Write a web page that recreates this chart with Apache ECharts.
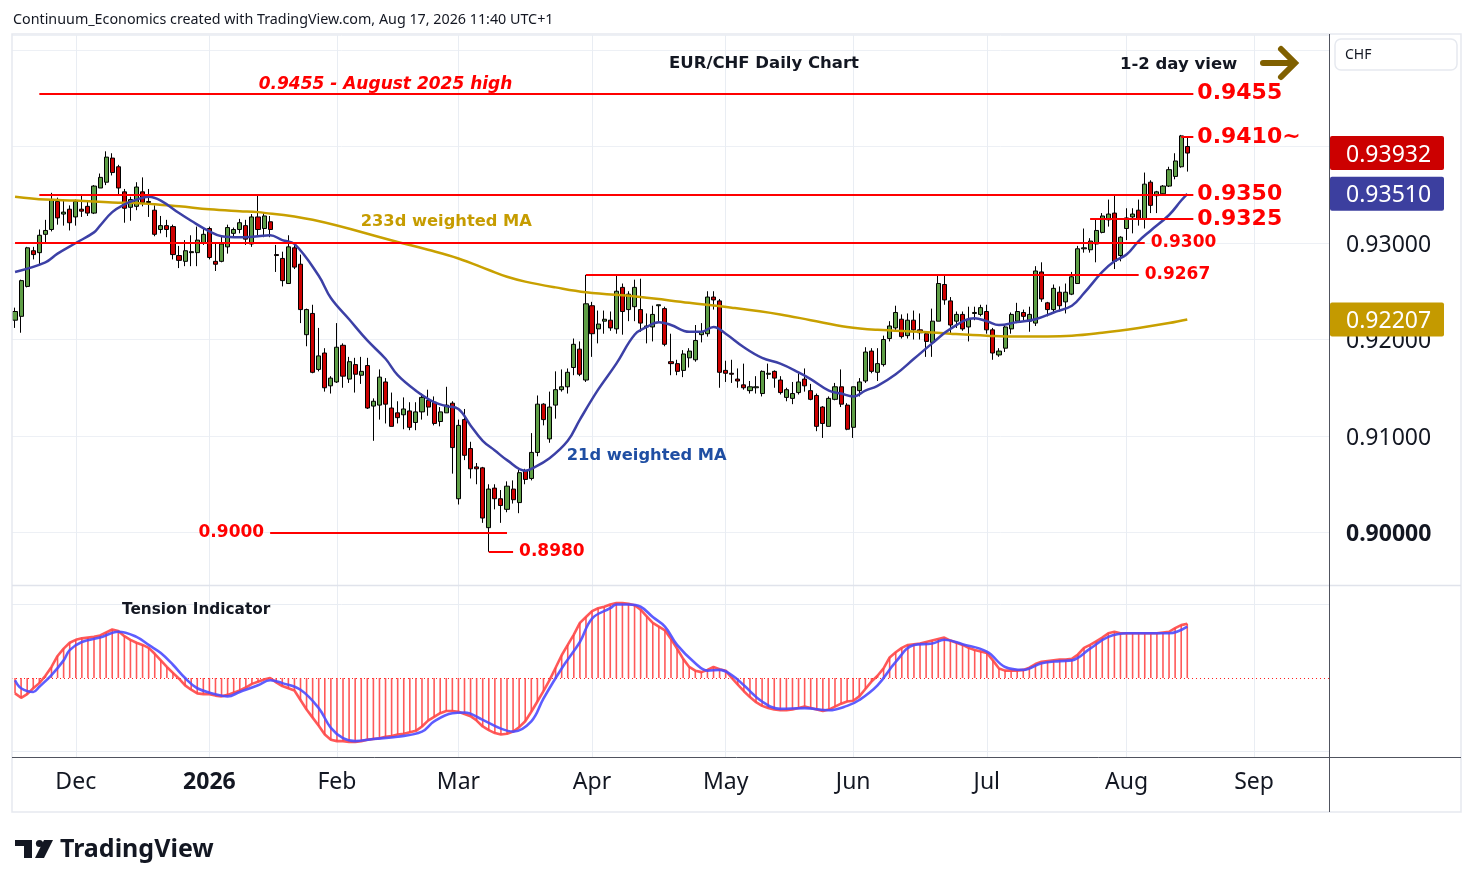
<!DOCTYPE html>
<html><head><meta charset="utf-8">
<script src="https://cdn.jsdelivr.net/npm/echarts@6/dist/echarts.min.js"></script>
<style>html,body{margin:0;padding:0;background:#fff}#c{width:1474px;height:887px}</style>
</head><body><div id="c"></div>
<script>
// ---------- data ----------
const openPx = [
0.9220,0.9224,0.9255,0.9292,0.9290,0.9309,0.9314,0.9343,0.9330,0.9335,
0.9327,0.9335,0.9338,0.9331,0.9357,0.9363,0.9388,0.9379,0.9353,0.9337,
0.9338,0.9353,0.9343,0.9334,0.9314,0.9318,0.9317,0.9287,0.9281,0.9290,
0.9290,0.9300,0.9315,0.9281,0.9281,0.9296,0.9310,0.9314,0.9318,0.9299,
0.9327,0.9315,0.9322,0.9288,0.9284,0.9258,0.9295,0.9278,0.9205,0.9227,
0.9169,0.9186,0.9152,0.9156,0.9194,0.9159,0.9174,0.9163,0.9173,0.9131,
0.9132,0.9156,0.9129,0.9124,0.9122,0.9126,0.9114,0.9125,0.9137,0.9135,
0.9115,0.9124,0.9134,0.9035,0.9117,0.9087,0.9068,0.9067,0.9005,0.9046,
0.9035,0.9024,0.9045,0.9031,0.9064,0.9056,0.9083,0.9133,0.9097,0.9132,
0.9148,0.9151,0.9171,0.9190,0.9158,0.9235,0.9211,0.9219,0.9220,0.9211,
0.9254,0.9231,0.9234,0.9231,0.9213,0.9213,0.9235,0.9232,0.9177,0.9175,
0.9168,0.9181,0.9179,0.9205,0.9206,0.9244,0.9240,0.9168,0.9165,0.9159,
0.9153,0.9147,0.9150,0.9144,0.9164,0.9167,0.9158,0.9140,0.9139,0.9145,
0.9159,0.9147,0.9142,0.9130,0.9110,0.9138,0.9151,0.9132,0.9109,0.9147,
0.9157,0.9188,0.9166,0.9174,0.9201,0.9212,0.9221,0.9204,0.9220,0.9210,
0.9206,0.9197,0.9219,0.9257,0.9240,0.9219,0.9226,0.9213,0.9227,0.9226,
0.9229,0.9210,0.9184,0.9191,0.9211,0.9219,0.9228,0.9219,0.9217,0.9270,
0.9238,0.9231,0.9249,0.9239,0.9247,0.9258,0.9294,0.9293,0.9299,0.9311,
0.9324,0.9331,0.9287,0.9315,0.9327,0.9334,0.9325,0.9363,0.9349,0.9351,
0.9359,0.9369,0.9379,0.9400];
const highPx = [
0.9233,0.9262,0.9296,0.9296,0.9314,0.9324,0.9352,0.9347,0.9345,0.9339,
0.9345,0.9349,0.9343,0.9360,0.9372,0.9395,0.9393,0.9381,0.9356,0.9348,
0.9363,0.9368,0.9356,0.9339,0.9328,0.9324,0.9319,0.9297,0.9303,0.9308,
0.9317,0.9316,0.9317,0.9300,0.9307,0.9319,0.9316,0.9325,0.9324,0.9330,
0.9350,0.9332,0.9328,0.9298,0.9291,0.9308,0.9300,0.9288,0.9232,0.9236,
0.9212,0.9191,0.9162,0.9217,0.9196,0.9182,0.9181,0.9182,0.9181,0.9139,
0.9169,0.9160,0.9145,0.9136,0.9140,0.9135,0.9135,0.9144,0.9148,0.9141,
0.9130,0.9151,0.9136,0.9117,0.9128,0.9094,0.9072,0.9068,0.9050,0.9050,
0.9044,0.9053,0.9054,0.9065,0.9066,0.9103,0.9142,0.9134,0.9146,0.9167,
0.9169,0.9170,0.9201,0.9198,0.9267,0.9239,0.9230,0.9230,0.9229,0.9266,
0.9258,0.9250,0.9262,0.9263,0.9227,0.9235,0.9236,0.9234,0.9206,0.9179,
0.9189,0.9191,0.9215,0.9217,0.9250,0.9250,0.9242,0.9178,0.9179,0.9170,
0.9175,0.9157,0.9162,0.9168,0.9175,0.9168,0.9162,0.9150,0.9156,0.9165,
0.9170,0.9154,0.9144,0.9131,0.9141,0.9155,0.9169,0.9134,0.9151,0.9160,
0.9192,0.9191,0.9191,0.9204,0.9219,0.9235,0.9226,0.9227,0.9230,0.9227,
0.9208,0.9232,0.9267,0.9267,0.9244,0.9229,0.9229,0.9234,0.9234,0.9236,
0.9236,0.9212,0.9191,0.9215,0.9228,0.9238,0.9231,0.9234,0.9276,0.9280,
0.9239,0.9257,0.9255,0.9258,0.9270,0.9297,0.9315,0.9305,0.9324,0.9331,
0.9345,0.9349,0.9307,0.9336,0.9336,0.9345,0.9373,0.9365,0.9354,0.9360,
0.9379,0.9393,0.9412,0.9410];
const lowPx = [
0.9212,0.9207,0.9254,0.9283,0.9277,0.9301,0.9312,0.9319,0.9318,0.9313,
0.9318,0.9327,0.9328,0.9330,0.9357,0.9360,0.9370,0.9350,0.9321,0.9323,
0.9334,0.9338,0.9327,0.9307,0.9310,0.9306,0.9283,0.9274,0.9276,0.9276,
0.9276,0.9298,0.9283,0.9271,0.9280,0.9289,0.9307,0.9310,0.9298,0.9296,
0.9308,0.9306,0.9306,0.9270,0.9255,0.9258,0.9273,0.9217,0.9193,0.9165,
0.9167,0.9146,0.9144,0.9155,0.9150,0.9155,0.9145,0.9154,0.9128,0.9095,
0.9117,0.9113,0.9110,0.9113,0.9107,0.9106,0.9106,0.9117,0.9121,0.9111,
0.9110,0.9124,0.9061,0.9029,0.9075,0.9056,0.9050,0.9010,0.8980,0.9024,
0.9010,0.9021,0.9030,0.9020,0.9050,0.9054,0.9079,0.9111,0.9093,0.9118,
0.9146,0.9144,0.9163,0.9162,0.9156,0.9182,0.9196,0.9206,0.9209,0.9206,
0.9205,0.9219,0.9219,0.9208,0.9196,0.9198,0.9218,0.9193,0.9163,0.9163,
0.9161,0.9171,0.9177,0.9197,0.9203,0.9231,0.9150,0.9156,0.9155,0.9150,
0.9148,0.9144,0.9144,0.9141,0.9159,0.9150,0.9143,0.9136,0.9133,0.9143,
0.9146,0.9137,0.9105,0.9098,0.9110,0.9137,0.9130,0.9106,0.9098,0.9141,
0.9155,0.9165,0.9157,0.9172,0.9198,0.9209,0.9201,0.9201,0.9200,0.9200,
0.9182,0.9182,0.9219,0.9236,0.9206,0.9212,0.9209,0.9198,0.9220,0.9224,
0.9206,0.9179,0.9182,0.9187,0.9206,0.9217,0.9220,0.9208,0.9214,0.9239,
0.9224,0.9228,0.9229,0.9227,0.9246,0.9258,0.9290,0.9290,0.9280,0.9310,
0.9317,0.9273,0.9281,0.9303,0.9310,0.9318,0.9315,0.9331,0.9331,0.9350,
0.9358,0.9366,0.9378,0.9374];
const closePx = [
0.9229,0.9261,0.9295,0.9288,0.9308,0.9313,0.9345,0.9326,0.9332,0.9321,
0.9343,0.9333,0.9331,0.9359,0.9368,0.9389,0.9373,0.9357,0.9336,0.9345,
0.9358,0.9342,0.9342,0.9309,0.9318,0.9314,0.9288,0.9282,0.9292,0.9291,
0.9303,0.9309,0.9285,0.9278,0.9299,0.9316,0.9314,0.9321,0.9304,0.9327,
0.9314,0.9328,0.9314,0.9287,0.9261,0.9296,0.9275,0.9231,0.9231,0.9166,
0.9183,0.9150,0.9160,0.9192,0.9162,0.9177,0.9164,0.9167,0.9129,0.9136,
0.9161,0.9133,0.9110,0.9119,0.9128,0.9109,0.9125,0.9140,0.9130,0.9113,
0.9125,0.9132,0.9088,0.9111,0.9080,0.9066,0.9066,0.9015,0.9045,0.9035,
0.9028,0.9048,0.9034,0.9062,0.9055,0.9083,0.9133,0.9117,0.9130,0.9148,
0.9151,0.9166,0.9195,0.9164,0.9237,0.9206,0.9216,0.9221,0.9212,0.9250,
0.9229,0.9247,0.9254,0.9217,0.9214,0.9226,0.9236,0.9195,0.9175,0.9167,
0.9185,0.9188,0.9199,0.9208,0.9244,0.9241,0.9166,0.9165,0.9164,0.9157,
0.9150,0.9151,0.9151,0.9167,0.9165,0.9160,0.9145,0.9148,0.9144,0.9156,
0.9152,0.9138,0.9110,0.9113,0.9139,0.9151,0.9133,0.9107,0.9151,0.9156,
0.9187,0.9167,0.9175,0.9200,0.9214,0.9228,0.9203,0.9220,0.9210,0.9207,
0.9198,0.9219,0.9258,0.9241,0.9215,0.9226,0.9211,0.9221,0.9228,0.9233,
0.9210,0.9186,0.9188,0.9213,0.9226,0.9229,0.9224,0.9226,0.9271,0.9242,
0.9231,0.9253,0.9235,0.9249,0.9265,0.9294,0.9295,0.9302,0.9313,0.9328,
0.9330,0.9281,0.9306,0.9326,0.9330,0.9325,0.9361,0.9339,0.9353,0.9359,
0.9376,0.9385,0.9411,0.93932];

// 21d weighted MA (bar index -> value)
const wma21Idx = [0,5,7,10,13,14,16,18,20,22,24,27,29,32,34,37,40,42,44,46,50,52,55,58,61,63,66,69,71,73,75,77,79,81,84,85,88,91,93,96,99,102,104,106,108,111,113,115,117,120,123,126,129,131,134,136,138,140,142,145,148,151,154,158,160,162,165,168,171,174,176,179,181,183,185,187,190,192,193];
const wma21Val = [0.9270,0.9280,0.9289,0.9300,0.9311,0.9318,0.9332,0.9340,0.9345,0.9348,0.9344,0.9331,0.9323,0.9312,0.9307,0.9306,0.9307,0.9308,0.9303,0.9299,0.9266,0.9243,0.9221,0.9199,0.9180,0.9163,0.9147,0.9135,0.9131,0.9128,0.9111,0.9095,0.9085,0.9075,0.9064,0.9066,0.9077,0.9095,0.9117,0.9148,0.9175,0.9205,0.9213,0.9218,0.9215,0.9208,0.9208,0.9213,0.9206,0.9192,0.9181,0.9175,0.9166,0.9159,0.9147,0.9144,0.9141,0.9147,0.9152,0.9164,0.9180,0.9196,0.9211,0.9222,0.9219,0.9215,0.9218,0.9221,0.9228,0.9235,0.9248,0.9270,0.9281,0.9288,0.9302,0.9313,0.9329,0.9344,0.9351];
// 233d weighted MA
const wma233Idx = [0,5,10,16,21,27,32,37,40,49,63,68,73,78,81,84,89,94,103,111,118,126,131,137,142,149,154,160,165,174,179,185,190,193];
const wma233Val = [0.9348,0.9345,0.9344,0.9342,0.9341,0.9338,0.9335,0.9333,0.9332,0.9324,0.9301,0.9293,0.9284,0.9272,0.9265,0.9260,0.9254,0.9249,0.9244,0.9238,0.9233,0.9226,0.9220,0.9213,0.9210,0.9208,0.9206,0.9204,0.9203,0.9204,0.9207,0.9212,0.9217,0.92207];

// Tension Indicator (one value per bar)
const tension = [
-0.21,-0.27,-0.22,-0.14,-0.07,0.03,0.15,0.30,0.40,0.48,
0.52,0.54,0.55,0.56,0.58,0.62,0.66,0.64,0.57,0.52,
0.48,0.45,0.41,0.33,0.24,0.15,0.07,-0.01,-0.10,-0.16,
-0.21,-0.22,-0.22,-0.24,-0.25,-0.23,-0.20,-0.17,-0.13,-0.08,
-0.05,-0.02,0.00,-0.06,-0.11,-0.14,-0.17,-0.30,-0.43,-0.54,
-0.65,-0.77,-0.84,-0.86,-0.86,-0.87,-0.87,-0.86,-0.84,-0.83,
-0.82,-0.80,-0.79,-0.77,-0.76,-0.74,-0.72,-0.66,-0.58,-0.53,
-0.48,-0.45,-0.45,-0.46,-0.49,-0.52,-0.58,-0.66,-0.71,-0.75,
-0.77,-0.76,-0.73,-0.67,-0.59,-0.46,-0.32,-0.18,-0.03,0.14,
0.31,0.45,0.59,0.75,0.83,0.91,0.95,0.97,1.00,1.02,
1.02,1.01,0.99,0.93,0.84,0.75,0.70,0.65,0.53,0.40,
0.26,0.15,0.10,0.08,0.11,0.15,0.12,0.10,0.00,-0.09,
-0.18,-0.26,-0.33,-0.38,-0.41,-0.43,-0.44,-0.44,-0.43,-0.41,
-0.39,-0.41,-0.43,-0.45,-0.43,-0.39,-0.35,-0.32,-0.31,-0.25,
-0.15,-0.05,0.03,0.13,0.28,0.35,0.41,0.45,0.46,0.47,
0.49,0.51,0.53,0.55,0.51,0.48,0.45,0.41,0.38,0.36,
0.34,0.24,0.13,0.10,0.10,0.10,0.11,0.14,0.19,0.22,
0.23,0.24,0.25,0.25,0.26,0.32,0.41,0.45,0.50,0.55,
0.61,0.63,0.61,0.61,0.61,0.61,0.61,0.61,0.61,0.62,
0.63,0.68,0.72,0.74];
// signal line of the Tension Indicator
const signalIdx = [0,1,3,4,6,8,9,11,14,17,20,22,24,26,28,30,33,35,37,40,42,44,47,50,52,54,56,59,63,67,69,72,74,77,80,82,85,87,90,93,95,98,99,101,103,105,107,109,112,114,116,118,120,123,126,130,134,137,139,142,145,148,151,153,156,160,163,166,169,172,174,177,180,183,186,190,193];
const signalVal = [-0.03,-0.14,-0.19,-0.12,0.04,0.24,0.38,0.49,0.55,0.63,0.56,0.45,0.34,0.18,0.00,-0.14,-0.22,-0.25,-0.19,-0.10,-0.03,-0.07,-0.16,-0.41,-0.68,-0.82,-0.86,-0.83,-0.80,-0.73,-0.59,-0.48,-0.47,-0.57,-0.69,-0.73,-0.59,-0.28,0.13,0.49,0.81,0.95,1.00,1.00,0.97,0.83,0.70,0.45,0.20,0.10,0.11,0.04,-0.10,-0.32,-0.42,-0.41,-0.44,-0.38,-0.30,-0.10,0.22,0.45,0.47,0.52,0.46,0.36,0.15,0.11,0.20,0.23,0.24,0.40,0.56,0.61,0.61,0.61,0.70];

// horizontal levels drawn on the chart
const levelValues = [0.9455, 0.9410, 0.9350, 0.9325, 0.9300, 0.9267, 0.9000, 0.8980];
const levelStart  = [4, 192, 4, 177, 0, 94, 42, 78];
const levelEnd    = [194, 194, 194, 194, 186, 185, 81, 82];
const levelText   = ['0.9455', '0.9410~', '0.9350', '0.9325', '0.9300', '0.9267', '0.9000', '0.8980'];

const lastPrice = 0.93932, lastWma21 = 0.93510, lastWma233 = 0.92207;
const monthNames = ['Jan','Feb','Mar','Apr','May','Jun','Jul','Aug','Sep','Oct','Nov','Dec'];

// ---------- trading-day categories (weekdays, holidays skipped) ----------
const skipDays = {'2025-12-25':1, '2026-01-01':1};
const dates = [];
(function(){ const d = new Date(Date.UTC(2025,10,17));
  while (dates.length < 217) { const wd = d.getUTCDay(); const s = d.toISOString().slice(0,10);
    if (wd !== 0 && wd !== 6 && !skipDays[s]) dates.push(s); d.setUTCDate(d.getUTCDate()+1); } })();
const monthStart = [];
for (let i = 1; i < dates.length; i++) if (dates[i].slice(5,7) !== dates[i-1].slice(5,7)) monthStart.push(i);
const isMonthStart = {}; monthStart.forEach(i => isMonthStart[i] = true);

const candles = openPx.map((o,i) => [o, closePx[i], lowPx[i], highPx[i]]);
const wma21 = wma21Idx.map((x,k) => [dates[x], wma21Val[k]]);
const wma233 = wma233Idx.map((x,k) => [dates[x], wma233Val[k]]);
const signal = signalIdx.map((x,k) => [dates[x], signalVal[k]]);

const RED = '#ff0000';
const levelLines = levelValues.map((v,k) => {
  const big = k < 4;
  return [
    { coord: [dates[levelStart[k]], v], lineStyle: {color: RED, width: 2, type: 'solid'},
      label: { show: true, formatter: levelText[k], position: k === 6 ? 'start' : 'end',
        distance: big ? 4 : 6, color: RED, fontFamily: 'DejaVu Sans', fontWeight: 'bold', fontSize: big ? 22 : 17,
        padding: [3, 0, 0, 0] } },
    { coord: [dates[levelEnd[k]], v] }
  ];
});
const monthLines = monthStart.map(i => ({ xAxis: dates[i] }));

const option = {
  animation: false,
  backgroundColor: '#ffffff',
  grid: [
    { left: 12, top: 35, width: 1318, height: 550 },
    { left: 12, top: 586, width: 1318, height: 171.5 }
  ],
  xAxis: [
    { type: 'category', gridIndex: 0, data: dates, boundaryGap: true,
      axisLine: {show: false}, axisTick: {show: false}, axisLabel: {show: false}, splitLine: {show: false} },
    { type: 'category', gridIndex: 1, data: dates, boundaryGap: true,
      axisLine: {show: false}, axisTick: {show: false}, splitLine: {show: false},
      axisLabel: { interval: 0, margin: 13, fontSize: 23, fontFamily: 'Noto Sans', color: '#131722',
        formatter: (v, i) => {
          if (!isMonthStart[i]) return '';
          const m = +v.slice(5,7);
          return m === 1 ? '{b|' + v.slice(0,4) + '}' : monthNames[m-1];
        },
        rich: { b: { fontWeight: 'bold', fontSize: 23, fontFamily: 'Noto Sans', color: '#131722' } } } }
  ],
  yAxis: [
    { type: 'value', gridIndex: 0, position: 'right', min: 0.894560, max: 0.951554,
      splitNumber: 6, minInterval: 0.01, maxInterval: 0.01,
      axisLine: {show: false}, axisTick: {show: false},
      splitLine: { lineStyle: { color: '#edf0f5', width: 1 } },
      axisLabel: { margin: 16, fontSize: 23, fontFamily: 'Noto Sans', color: '#131722',
        showMinLabel: false, showMaxLabel: false, padding: [4, 0, 0, 0],
        formatter: v => { const r = Math.round(v*100)/100;
          if (Math.abs(v - r) > 1e-6 || r >= 0.94) return '';
          return r === 0.9 ? '{b|' + r.toFixed(5) + '}' : r.toFixed(5); },
        rich: { b: { fontWeight: 'bold', fontSize: 23, fontFamily: 'Noto Sans', color: '#131722' } } } },
    { type: 'value', gridIndex: 1, position: 'right', min: -1.083, max: 1.253,
      axisLine: {show: false}, axisTick: {show: false}, axisLabel: {show: false}, splitLine: {show: false} }
  ],
  series: [
    { type: 'line', xAxisIndex: 0, yAxisIndex: 0, data: [], z: 1, silent: true,
      markLine: { silent: true, z: 1, symbol: ['none','none'], label: {show: false},
        lineStyle: { color: '#e9edf3', width: 1, type: 'solid' }, data: monthLines } },
    { type: 'candlestick', name: 'EUR/CHF', xAxisIndex: 0, yAxisIndex: 0, data: candles, barWidth: 4.6, z: 2,
      itemStyle: { color: '#5e9e46', color0: '#cc0000', borderColor: '#000000', borderColor0: '#000000', borderWidth: 1 },
      markLine: { silent: true, z: 5, symbol: ['none','none'], data: levelLines },
      markPoint: { silent: true, z: 6, data: [
        { coord: [dates[61], 0.94640], symbol: 'circle', symbolSize: 1, itemStyle: {color: 'rgba(0,0,0,0)'},
          label: { show: true, position: 'inside', formatter: '0.9455 - August 2025 high', color: RED,
            fontFamily: 'DejaVu Sans', fontStyle: 'italic', fontWeight: 'bold', fontSize: 17 } } ] } },
    { type: 'line', name: '233d weighted MA', xAxisIndex: 0, yAxisIndex: 0, data: wma233, smooth: 0.4,
      symbol: 'none', z: 3, lineStyle: { color: '#c8a000', width: 2.5 },
      markPoint: { silent: true, data: [
        { coord: [dates[71], 0.93225], symbol: 'circle', symbolSize: 1, itemStyle: {color: 'rgba(0,0,0,0)'},
          label: { show: true, position: 'inside', formatter: '233d weighted MA', color: '#c69c00',
            fontFamily: 'DejaVu Sans', fontWeight: 'bold', fontSize: 16.3 } } ] } },
    { type: 'line', name: '21d weighted MA', xAxisIndex: 0, yAxisIndex: 0, data: wma21, smooth: 0.4,
      symbol: 'none', z: 3, lineStyle: { color: '#3c40a6', width: 2.5 },
      markPoint: { silent: true, data: [
        { coord: [dates[104], 0.90800], symbol: 'circle', symbolSize: 1, itemStyle: {color: 'rgba(0,0,0,0)'},
          label: { show: true, position: 'inside', formatter: '21d weighted MA', color: '#1f4ea3',
            fontFamily: 'DejaVu Sans', fontWeight: 'bold', fontSize: 16.3 } } ] } },
    // indicator pane
    { type: 'line', xAxisIndex: 1, yAxisIndex: 1, data: [], z: 1, silent: true,
      markLine: { silent: true, z: 1, symbol: ['none','none'], label: {show: false},
        lineStyle: { color: '#e9edf3', width: 1, type: 'solid' },
        data: monthLines.concat([{ yAxis: 1 }, { yAxis: -1 }]) } },
    { type: 'bar', xAxisIndex: 1, yAxisIndex: 1, data: tension, barWidth: 1.6, z: 2,
      itemStyle: { color: 'rgba(255,60,60,0.85)' },
      markLine: { silent: true, z: 2, symbol: ['none','none'], label: {show: false},
        lineStyle: { color: '#ff2020', width: 1, type: [1, 3] }, data: [{ yAxis: 0 }] } },
    { type: 'line', xAxisIndex: 1, yAxisIndex: 1, data: tension, symbol: 'none', z: 3,
      lineStyle: { color: 'rgba(255,70,70,0.9)', width: 2.6 } },
    { type: 'line', xAxisIndex: 1, yAxisIndex: 1, data: signal, smooth: 0.4, symbol: 'none', z: 4,
      lineStyle: { color: 'rgba(75,75,255,0.9)', width: 2.6 } }
  ]
};

const chart = echarts.init(document.getElementById('c'), null, { renderer: 'canvas', width: 1474, height: 887 });
chart.setOption(option);

// ---------- overlay: frame, titles, price badges ----------
const yOf = v => chart.convertToPixel({ yAxisIndex: 0 }, v);
function badge(v, fill) {
  const y = yOf(v);
  return [
    { type: 'rect', z: 100, shape: { x: 1330, y: y - 17, width: 114, height: 34, r: 2 }, style: { fill: fill } },
    { type: 'text', z: 101, x: 1346, y: y + 2, style: { text: v.toFixed(5), fill: '#ffffff',
      font: '23px "Noto Sans"', verticalAlign: 'middle', align: 'left' } }
  ];
}
const TEXT = '#131722';
const g = [
  { type: 'rect', z: 90, silent: true, shape: { x: 12, y: 34, width: 1449, height: 778 },
    style: { fill: 'none', stroke: '#e6e9ef', lineWidth: 1.5 } },
  { type: 'line', z: 91, shape: { x1: 12, y1: 585.5, x2: 1461, y2: 585.5 }, style: { stroke: '#e0e3eb', lineWidth: 1.5 } },
  { type: 'line', z: 91, shape: { x1: 1329.5, y1: 34, x2: 1329.5, y2: 812 }, style: { stroke: '#50535e', lineWidth: 1 } },
  { type: 'line', z: 91, shape: { x1: 12, y1: 757.5, x2: 1461, y2: 757.5 }, style: { stroke: '#50535e', lineWidth: 1 } },
  { type: 'text', z: 100, x: 13, y: 20, style: { text: 'Continuum_Economics created with TradingView.com, Aug 17, 2026 11:40 UTC+1',
      fill: TEXT, font: '14.3px "Noto Sans"', verticalAlign: 'middle' } },
  { type: 'text', z: 100, x: 764, y: 64, style: { text: 'EUR/CHF Daily Chart', fill: TEXT,
      font: 'bold 16.5px "DejaVu Sans"', align: 'center', verticalAlign: 'middle' } },
  { type: 'text', z: 100, x: 1120, y: 65, style: { text: '1-2 day view', fill: TEXT,
      font: 'bold 16.5px "DejaVu Sans"', align: 'left', verticalAlign: 'middle' } },
  { type: 'polyline', z: 100, shape: { points: [[1263, 63], [1294, 63]] },
    style: { stroke: '#806000', lineWidth: 6, lineCap: 'round', fill: 'none' } },
  { type: 'polyline', z: 100, shape: { points: [[1281, 49], [1295, 63], [1281, 77]] },
    style: { stroke: '#806000', lineWidth: 6, lineCap: 'round', lineJoin: 'miter', fill: 'none' } },
  { type: 'text', z: 100, x: 122, y: 610, style: { text: 'Tension Indicator', fill: TEXT,
      font: 'bold 15.3px "DejaVu Sans"', verticalAlign: 'middle' } },
  { type: 'rect', z: 100, shape: { x: 1335, y: 39, width: 122, height: 31, r: 6 },
    style: { fill: '#ffffff', stroke: '#e6e9ef', lineWidth: 1.5 } },
  { type: 'text', z: 101, x: 1345, y: 55, style: { text: 'CHF', fill: TEXT, font: '14px "Noto Sans"', verticalAlign: 'middle' } },
  // TradingView logo
  { type: 'rect', z: 100, shape: { x: 15, y: 840, width: 17, height: 6 }, style: { fill: TEXT } },
  { type: 'rect', z: 100, shape: { x: 24, y: 840, width: 8, height: 18 }, style: { fill: TEXT } },
  { type: 'circle', z: 100, shape: { cx: 39.5, cy: 843.5, r: 3.6 }, style: { fill: TEXT } },
  { type: 'polygon', z: 100, shape: { points: [[44, 840], [53, 840], [44, 858], [35, 858]] }, style: { fill: TEXT } },
  { type: 'text', z: 100, x: 60, y: 850, style: { text: 'TradingView', fill: TEXT,
      font: 'bold 25px "Noto Sans"', verticalAlign: 'middle' } }
].concat(badge(lastPrice, '#cc0000'), badge(lastWma21, '#3c3f9f'), badge(lastWma233, '#c49a00'));
chart.setOption({ graphic: { elements: g } });
</script>
</body></html>
